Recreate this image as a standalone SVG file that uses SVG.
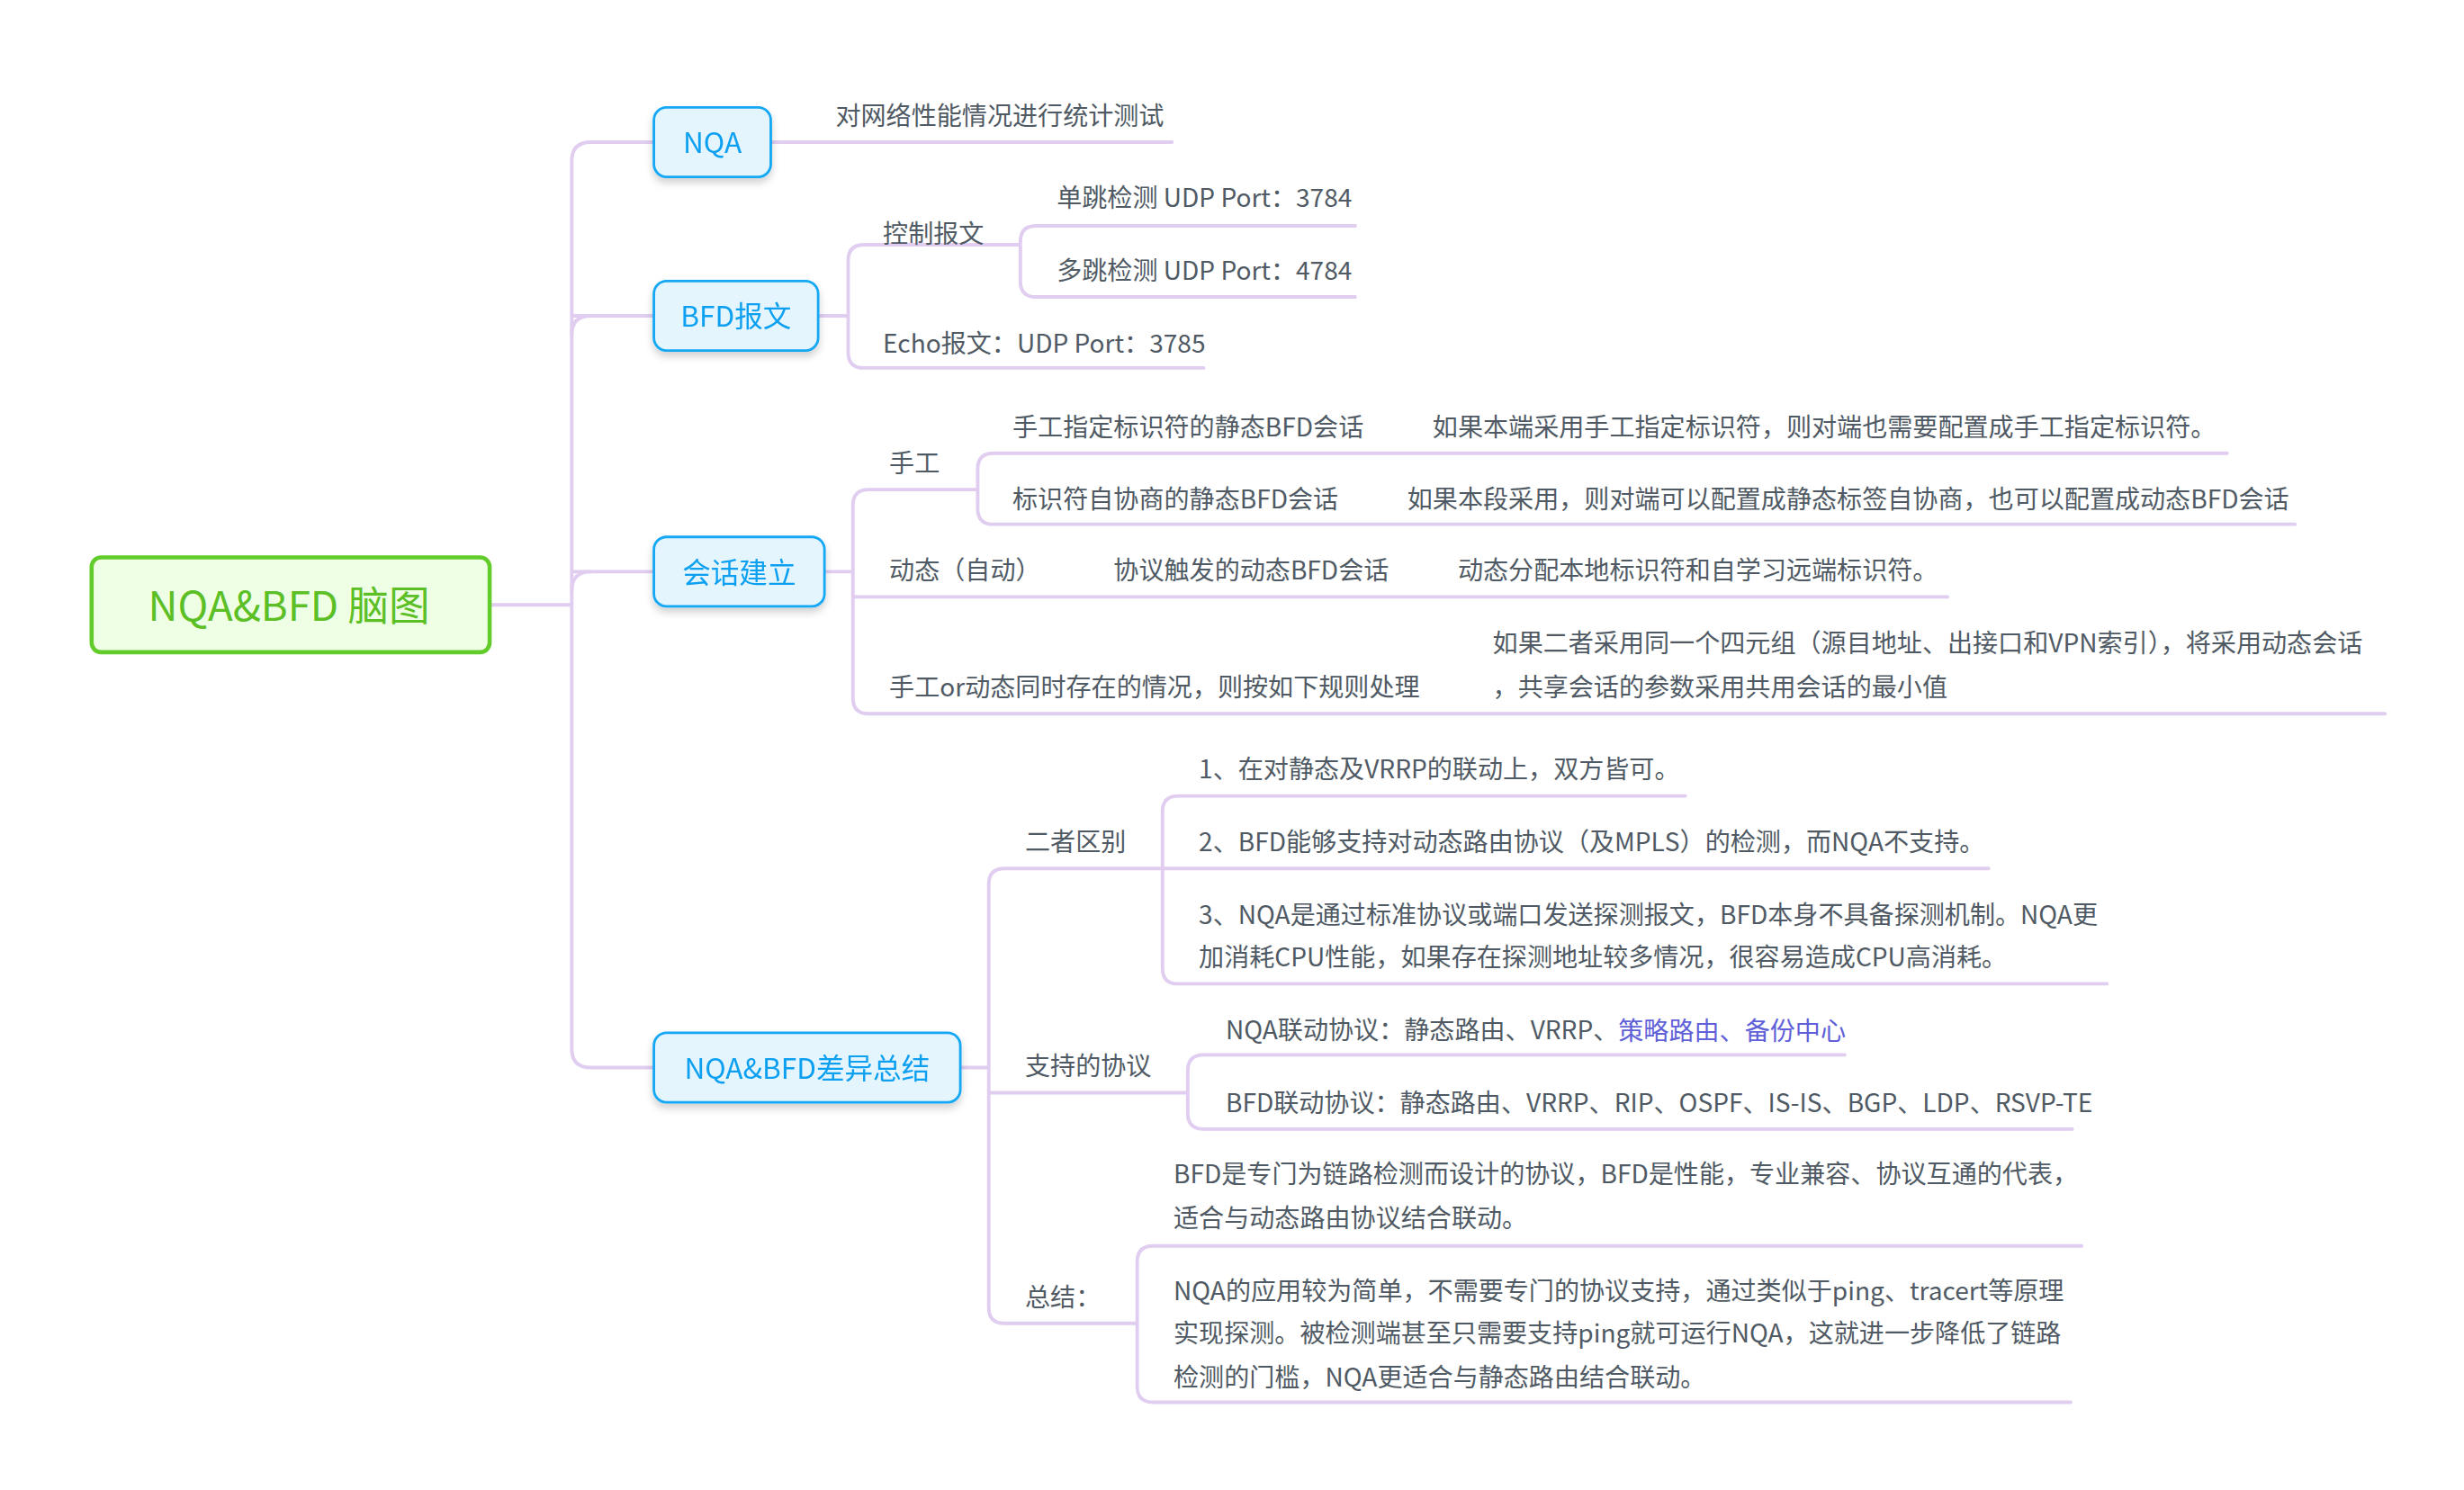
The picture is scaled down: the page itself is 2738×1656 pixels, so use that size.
<svg xmlns="http://www.w3.org/2000/svg" width="2738" height="1656" viewBox="0 0 2738 1656">
<defs>
<style>
.c{fill:none;stroke:#e0cdf0;stroke-width:2.2;stroke-linecap:round}
.t{font-family:"Noto Sans CJK SC","Noto Sans",sans-serif;font-size:16px;fill:#505a64;dominant-baseline:central}
.b{fill:#e5f5fe;stroke:#12a8f5;stroke-width:1.6}
.bt{font-family:"Noto Sans CJK SC","Noto Sans",sans-serif;font-size:18px;fill:#0aa0f0;text-anchor:middle;dominant-baseline:central}
</style>
<filter id="sh" x="-20%" y="-20%" width="140%" height="160%"><feDropShadow dx="0" dy="3" stdDeviation="2.5" flood-color="#000" flood-opacity="0.18"/></filter>
</defs>
<rect width="2738" height="1656" fill="#fff"/>
<g transform="scale(1.7551)">
<g id="connectors">
<path class="c" d="M310,383 H362 M414,90 H374 Q362,90 362,102 V664 Q362,676 374,676 H414 M362,200 Q362,200 374,200 H414 M362,362 H414"/>
<path class="c" d="M362,212 Q362,200 374,200 M362,374 Q362,362 374,362"/>
<path class="c" d="M488,90 H742"/>
<path class="c" d="M518,200 H537 M547,155 Q537,155 537,165 V223 Q537,233 547,233 H762 M547,155 H645 M656,143 Q646,143 646,153 V178 Q646,188 656,188 H858 M656,143 H858 M645,155 H646"/>
<path class="c" d="M522,362 H540 M550,310 Q540,310 540,320 V442 Q540,452 550,452 H1510 M550,310 H618 M540,378 H1233 M629,287 Q619,287 619,297 V322 Q619,332 629,332 H1453 M629,287 H1410"/>
<path class="c" d="M608,676 H626 M636,550 Q626,550 626,560 V828 Q626,838 636,838 H720 M636,550 H736 M626,692 H752 M746,504 Q736,504 736,514 V613 Q736,623 746,623 H1334 M746,504 H1067 M736,550 H1259 M762,668 Q752,668 752,678 V705 Q752,715 762,715 H1312 M762,668 H1168 M730,789 Q720,789 720,799 V878 Q720,888 730,888 H1311 M730,789 H1318"/>
</g>
<g id="root">
<rect x="58" y="353" width="252" height="60" rx="6" fill="#efffe6" stroke="#62cc2a" stroke-width="2.6"/>
<text x="183" y="382" font-family="Noto Sans CJK SC,Noto Sans,sans-serif" font-size="26" fill="#5cbf26" text-anchor="middle" dominant-baseline="central">NQA&amp;BFD 脑图</text>
</g>
<g id="n-nqa" filter="url(#sh)"><rect class="b" x="414" y="68" width="74" height="44" rx="8"/><text class="bt" x="451" y="89">NQA</text></g>
<g id="n-bfd" filter="url(#sh)"><rect class="b" x="414" y="178" width="104" height="44" rx="8"/><text class="bt" x="466" y="199">BFD报文</text></g>
<g id="n-session" filter="url(#sh)"><rect class="b" x="414" y="340" width="108" height="44" rx="8"/><text class="bt" x="468" y="361">会话建立</text></g>
<g id="n-diff" filter="url(#sh)"><rect class="b" x="414" y="654" width="194" height="44" rx="8"/><text class="bt" x="511" y="675">NQA&amp;BFD差异总结</text></g>
<g id="t-nqa"><text class="t" x="529" y="72">对网络性能情况进行统计测试</text></g>
<g id="t-bfd">
<text class="t" x="559" y="147">控制报文</text>
<text class="t" x="669" y="124">单跳检测 UDP Port：3784</text>
<text class="t" x="669" y="170">多跳检测 UDP Port：4784</text>
<text class="t" x="559" y="216">Echo报文：UDP Port：3785</text>
</g>
<g id="t-session">
<text class="t" x="563" y="292">手工</text>
<text class="t" x="641" y="269">手工指定标识符的静态BFD会话</text>
<text class="t" x="907" y="269">如果本端采用手工指定标识符，则对端也需要配置成手工指定标识符。</text>
<text class="t" x="641" y="315">标识符自协商的静态BFD会话</text>
<text class="t" x="891" y="315">如果本段采用，则对端可以配置成静态标签自协商，也可以配置成动态BFD会话</text>
<text class="t" x="563" y="360">动态（自动）</text>
<text class="t" x="705" y="360">协议触发的动态BFD会话</text>
<text class="t" x="923" y="360">动态分配本地标识符和自学习远端标识符。</text>
<text class="t" x="563" y="434">手工or动态同时存在的情况，则按如下规则处理</text>
<text class="t" x="945" y="406">如果二者采用同一个四元组（源目地址、出接口和VPN索引），将采用动态会话</text>
<text class="t" x="945" y="434">，共享会话的参数采用共用会话的最小值</text>
</g>
<g id="t-diff">
<text class="t" x="649" y="532">二者区别</text>
<text class="t" x="759" y="486">1、在对静态及VRRP的联动上，双方皆可。</text>
<text class="t" x="759" y="532">2、BFD能够支持对动态路由协议（及MPLS）的检测，而NQA不支持。</text>
<text class="t" x="759" y="578">3、NQA是通过标准协议或端口发送探测报文，BFD本身不具备探测机制。NQA更</text>
<text class="t" x="759" y="605">加消耗CPU性能，如果存在探测地址较多情况，很容易造成CPU高消耗。</text>
<text class="t" x="649" y="674">支持的协议</text>
<text class="t" x="776" y="651">NQA联动协议：静态路由、VRRP、<tspan fill="#6060d8">策略路由、备份中心</tspan></text>
<text class="t" x="776" y="697">BFD联动协议：静态路由、VRRP、RIP、OSPF、IS-IS、BGP、LDP、RSVP-TE</text>
<text class="t" x="649" y="820">总结：</text>
<text class="t" x="743" y="742">BFD是专门为链路检测而设计的协议，BFD是性能，专业兼容、协议互通的代表，</text>
<text class="t" x="743" y="770">适合与动态路由协议结合联动。</text>
<text class="t" x="743" y="816">NQA的应用较为简单，不需要专门的协议支持，通过类似于ping、tracert等原理</text>
<text class="t" x="743" y="843">实现探测。被检测端甚至只需要支持ping就可运行NQA，这就进一步降低了链路</text>
<text class="t" x="743" y="871">检测的门槛，NQA更适合与静态路由结合联动。</text>
</g>
</g>
</svg>
